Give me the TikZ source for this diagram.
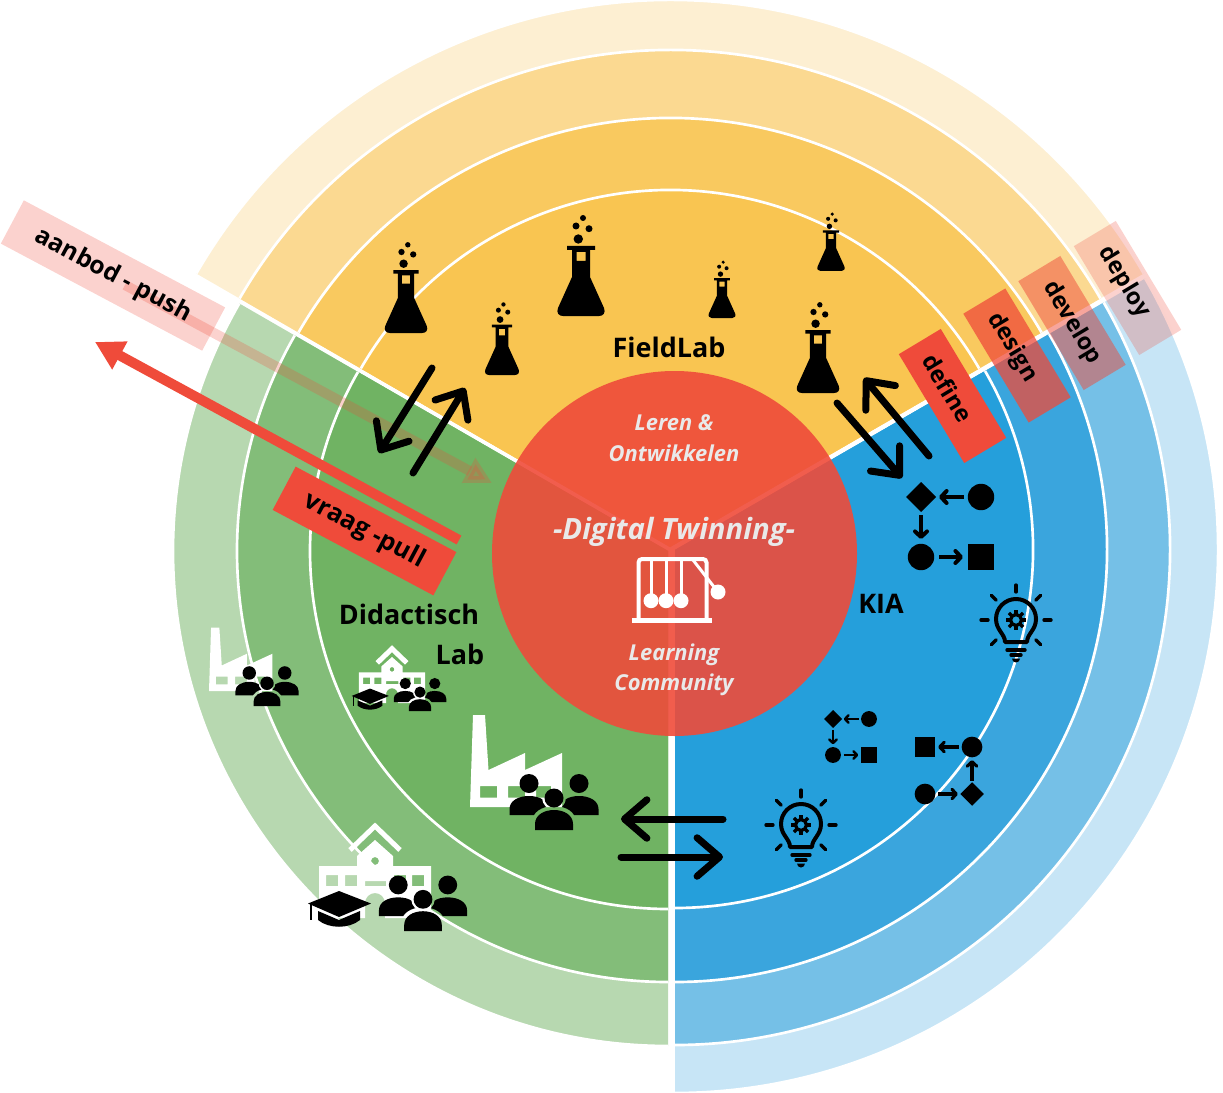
\documentclass[tikz,border=0pt]{standalone}
\usepackage{fontspec}
\setmainfont{Open Sans}
\usetikzlibrary{arrows.meta}

\definecolor{ylw1}{HTML}{F9C551}
\definecolor{ylw2}{HTML}{F9C95F}
\definecolor{ylw3}{HTML}{FBD991}
\definecolor{ylw4}{HTML}{FDEFD2}
\definecolor{grn1}{HTML}{70B363}
\definecolor{grn2}{HTML}{83BD79}
\definecolor{grn3}{HTML}{B7D8B0}
\definecolor{blu1}{HTML}{259FDB}
\definecolor{blu2}{HTML}{3AA5DD}
\definecolor{blu3}{HTML}{75C0E7}
\definecolor{blu4}{HTML}{C7E5F6}
\definecolor{rd}{HTML}{EF4B3A}
\definecolor{lightg}{HTML}{E9E9E9}

\tikzset{
	flask/.pic={
		\fill[even odd rule] (-14,-70) -- (14,-70) -- (14,-66) -- (9,-66) -- (9,-39) -- (23,-8)
			.. controls (25,-3) and (22,0) .. (18,0) -- (-18,0)
			.. controls (-22,0) and (-25,-3) .. (-23,-8) -- (-9,-39) -- (-9,-66) -- (-14,-66) -- cycle
			(-4.5,-64) rectangle (4.5,-55);
		\fill (-2.7,-77) circle (4.7) (-5,-90) circle (3.5) (8,-87.3) circle (3.5) (2,-98) circle (3);
	},
	flowa/.pic={
		\fill (-25,0) -- (0,-25) -- (25,0) -- (0,25) -- cycle;
		\fill (100,0) circle (22) (0,100) circle (22);
		\fill (79,79) rectangle (121,121);
		\draw[tiny] (72,0) -- (30,0);
		\draw[tiny] (0,30) -- (0,70);
		\draw[tiny] (30,100) -- (70,100);
	},
	flowb/.pic={
		\fill (-21,-21) rectangle (21,21);
		\fill (100,0) circle (22) (0,100) circle (22);
		\fill (75,100) -- (100,75) -- (125,100) -- (100,125) -- cycle;
		\draw[tiny] (72,0) -- (28,0);
		\draw[tiny] (100,72) -- (100,28);
		\draw[tiny] (28,100) -- (70,100);
	},
	bulb/.pic={
		\draw[line width=1.2mm, line join=round] (-11,22) .. controls (-11,14) and (-20,10) .. (-20,-1)
			arc (180:360:20) .. controls (20,10) and (11,14) .. (11,22) -- cycle;
		\draw[line width=1mm] (0,0) circle (5.5);
		\foreach \a in {0,45,...,315} {\draw[line width=1mm] (\a:6) -- (\a:10);}
		\foreach \a in {-180,-135,-90,-45,0,135,45} {\draw[line width=1mm, line cap=round] (\a:28) -- (\a:35);}
		\draw[line width=1mm, line cap=round] (-9,30) -- (9,30);
		\draw[line width=1mm, line cap=round] (-5,35) -- (5,35);
		\fill (-4,38.5) -- (4,38.5) arc (0:180:4) -- cycle;
	},
	factory/.pic={
		\fill[white, even odd rule] (3,-92) -- (15,-92) -- (18.5,-37) -- (55,-54) -- (55,-37) -- (92,-54)
			-- (92,0) -- (0,0) -- cycle
			(10,-21) rectangle (27,-9.5) (38,-21) rectangle (55,-9.5) (66,-21) rectangle (81,-9.5);
	},
	school/.pic={
		\fill[white, even odd rule] (-56,-52) -- (-18,-52) -- (-18,-62) -- (0,-78) -- (18,-62) -- (18,-52) -- (56,-52)
			-- (56,0) -- (10,0) -- (10,-15) arc (0:-180:10) -- (-10,0) -- (-56,0) -- cycle
			(0,-57) circle (4)
			(-49,-43) rectangle (-37,-32) (-30,-43) rectangle (-18,-32)
			(19,-43) rectangle (31,-32) (37,-43) rectangle (49,-32)
			(-10,-37) rectangle (11,-32);
		\draw[white, line width=1.5mm] (-25,-68) -- (0,-92) -- (25,-68);
	},
	hat/.pic={
		\fill (-31,-3.5) -- (0,-16) -- (32,-3.5) -- (0,10) -- cycle;
		\fill (-21,4) -- (0,13) -- (21,4) -- (21,13) .. controls (10,22) and (-10,22) .. (-21,13) -- cycle;
		\fill (-29,-3) rectangle (-27,13);
	},
	people/.pic={
		\begin{scope}
			\clip (-60,-70) -- (60,-70) -- (60,10) -- (-60,10) -- cycle (12,-32) arc (360:0:12);
			\clip (-60,-70) -- (60,-70) -- (60,10) -- (-60,10) -- cycle
				(22,2) -- (22,-8) .. controls (22,-18) and (12,-24) .. (0,-24) .. controls (-12,-24) and (-22,-18) .. (-22,-8) -- (-22,2) -- cycle;
			\foreach \s in {-1,1} {
				\fill (\s*25,-46.5) circle (9.5);
				\fill (\s*44.5,-15) -- (\s*44.5,-21) .. controls (\s*44.5,-29) and (\s*36,-34) .. (\s*25,-34)
					.. controls (\s*14,-34) and (\s*6,-29) .. (\s*6,-21) -- (\s*6,-15) -- cycle;
			}
		\end{scope}
		\fill (0,-32) circle (9.5);
		\fill (-19,0) -- (-19,-6) .. controls (-19,-15) and (-10,-20) .. (0,-20) .. controls (10,-20) and (19,-15) .. (19,-6) -- (19,0) -- cycle;
	}
}

\begin{document}
\begin{tikzpicture}[
		x=.3mm, y=-.3mm,
		ring/.style = {white, line width=.8mm},
		big/.style = {-{Straight Barb[length=0pt 3.2, width=0pt 5.5, round]}, line width=2.1mm, line cap=round},
		tiny/.style = {-{Straight Barb[length=0pt 1.4, width=0pt 3, round]}},
		lbl/.style = {font=\fontsize{23}{27}\selectfont\bfseries, inner sep=0},
		mid/.style = {font=\fontsize{18.7}{22}\selectfont\bfseries\itshape, text=lightg, inner sep=0},
		band/.style = {fill=rd, rectangle, inner sep=0, minimum width=38.1mm, minimum height=14.7mm, text opacity=1,
			font=\fontsize{20}{24}\selectfont\bfseries}
		]
		\useasboundingbox (0,0) rectangle (1223,1093);

		%Sectors
		\foreach \r/\c in {547/ylw4, 497/ylw3, 429/ylw2, 357/ylw1} {
			\fill[\c] (670,547) -- ++(210:\r) arc (210:330:\r) -- cycle;
			\draw[ring] (670,547) ++(210:\r) arc (210:330:\r);
		}
		\foreach \r/\c in {495/grn3, 431/grn2, 358/grn1} {
			\fill[\c] (668,551) -- ++(90:\r) arc (90:210:\r) -- cycle;
			\draw[ring] (668,551) ++(90:\r) arc (90:210:\r);
		}
		\foreach \r/\c in {543/blu4, 495/blu3, 432/blu2, 358/blu1} {
			\fill[\c] (675,550) -- ++(-30:\r) arc (-30:90:\r) -- cycle;
			\draw[ring] (675,550) ++(-30:\r) arc (-30:90:\r);
		}

		%Icons
		\pic[scale=.9]  at (406,333) {flask};
		\pic[scale=.72] at (502,375) {flask};
		\pic            at (581,316) {flask};
		\pic[scale=.57] at (722,318) {flask};
		\pic[scale=.58] at (831,271) {flask};
		\pic[scale=.9]  at (818,393) {flask};

		\pic[scale=.6, line width=1.2mm]   at (921,497) {flowa};
		\pic[scale=.36, line width=.75mm]  at (833,719) {flowa};
		\pic[scale=.47, line width=.95mm]  at (925,747) {flowb};
		\pic at (1016,620) {bulb};
		\pic at (801,825) {bulb};

		\pic            at (470,807) {factory};
		\pic[scale=.69] at (209,691) {factory};
		\pic            at (375,918) {school};
		\pic[scale=.59] at (392,703) {school};
		\pic            at (339,907) {hat};
		\pic[scale=.59] at (370,698) {hat};
		\pic            at (554,830) {people};
		\pic[scale=.71] at (267,706) {people};
		\pic[scale=.59] at (420,711) {people};
		\pic[scale=.99] at (423,931) {people};

		%Centre
		\node[circle, fill=rd, fill opacity=.9, minimum size=109.5mm, inner sep=0] (hub) at (674.5,553.5) {};
		\draw[white, line width=1.2mm, rounded corners=3pt] (638.5,619) -- (638.5,559) -- (706.5,559) -- (706.5,619);
		\draw[white, line width=1.7mm] (632,620.5) -- (712,620.5);
		\foreach \x in {651,666,681} {
			\draw[white, line width=.9mm] (\x,560) -- (\x,600);
			\fill[white] (\x,600.7) circle (7.5);
		}
		\draw[white, line width=.9mm] (693,560) -- (718,592);
		\fill[white] (718,592) circle (7.5);

		\node[mid] (leren)   at (674,423) {Leren \&};
		\node[mid] (ontw)    at (674,453) {Ontwikkelen};
		\node[mid, font=\fontsize{25}{30}\selectfont\bfseries\itshape] (twin) at (674,532) {-Digital Twinning-};
		\node[mid] (learn)   at (674,655) {Learning};
		\node[mid] (comm)    at (674,685) {Community};

		%Labels
		\node[lbl] (field) at (669,347) {FieldLab};
		\node[lbl] (dida)  at (409,614) {Didactisch};
		\node[lbl] (lab)   at (460,654) {Lab};
		\node[lbl] (kia)   at (881,604) {KIA};

		%Arrows
		\coordinate (pushA) at (125,285);
		\coordinate (pushB) at (492,483);
		\coordinate (pullA) at (459,540);
		\coordinate (pullB) at (95,342);
		\draw[-{Triangle[length=8mm, width=8mm]}, rd, line width=3mm, opacity=.25] (pushA) -- (pushB);
		\draw[-{Triangle[length=8.5mm, width=9mm]}, rd, line width=3mm] (pullA) -- (pullB);

		%Bands
		\node[band, rotate=-59] (define) at (952.5,396) {define\kern5.5mm};
		\node[band, rotate=-59, fill opacity=.75] (design)  at (1017,355.5) {design\kern5.5mm};
		\node[band, rotate=-59, fill opacity=.5]  (develop) at (1072,323) {develop};
		\node[band, rotate=-59, fill opacity=.25] (deploy)  at (1127.5,288) {deploy\kern4mm};
		\node[band, rotate=-28, fill opacity=.25, minimum width=68.4mm, font=\fontsize{21}{25}\selectfont\bfseries] (aanbod) at (113,275.5) {aanbod - push};
		\node[band, rotate=-28, minimum width=54.6mm, font=\fontsize{21.5}{25}\selectfont\bfseries] (vraag) at (364.5,531) {vraag -pull};

		%Lines
		\coordinate (a1) at (432,368);
		\coordinate (a2) at (379,453);
		\coordinate (b1) at (413,473);
		\coordinate (b2) at (465,388);
		\coordinate (c1) at (837,403);
		\coordinate (c2) at (902,478);
		\coordinate (d1) at (929,456);
		\coordinate (d2) at (864,378);
		\coordinate (e1) at (723,819);
		\coordinate (e2) at (621,819);
		\coordinate (f1) at (621,857);
		\coordinate (f2) at (723,857);
		\draw[big] (a1) -- (a2);
		\draw[big] (b1) -- (b2);
		\draw[big] (c1) -- (c2);
		\draw[big] (d1) -- (d2);
		\draw[big] (e1) -- (e2);
		\draw[big] (f1) -- (f2);
	\end{tikzpicture}
\end{document}
